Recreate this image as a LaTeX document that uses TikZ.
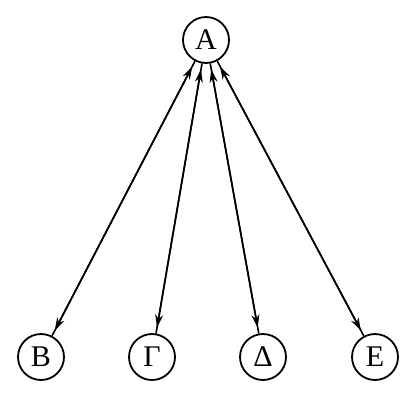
\documentclass[tikz,border=0pt]{standalone}
\usepackage{fontspec}
\setmainfont{Liberation Serif}
\usetikzlibrary{arrows.meta}
\begin{document}
\begin{tikzpicture}[x=1pt,y=-1pt,
  vert/.style={circle,draw,line width=1.8pt,minimum size=46pt,inner sep=0pt,font=\fontsize{30}{30}\selectfont},
  link/.style={line width=1.6pt},
  tips/.style={line width=1.6pt,{Stealth[length=13pt,width=8pt]}-{Stealth[length=13pt,width=8pt]},shorten <=6pt,shorten >=6pt}]
\useasboundingbox (0,0) rectangle (414,400);
\node[vert] (A) at (206,40) {A};
\node[vert] (B) at (41,357) {B};
\node[vert] (G) at (152,357) {Γ};
\node[vert] (D) at (263,357) {Δ};
\node[vert] (E) at (375,357) {E};
\foreach \n in {B,G,D,E}{
  \draw[link] (A) -- (\n);
  \draw[tips] (A) -- (\n);
}
\end{tikzpicture}
\end{document}
